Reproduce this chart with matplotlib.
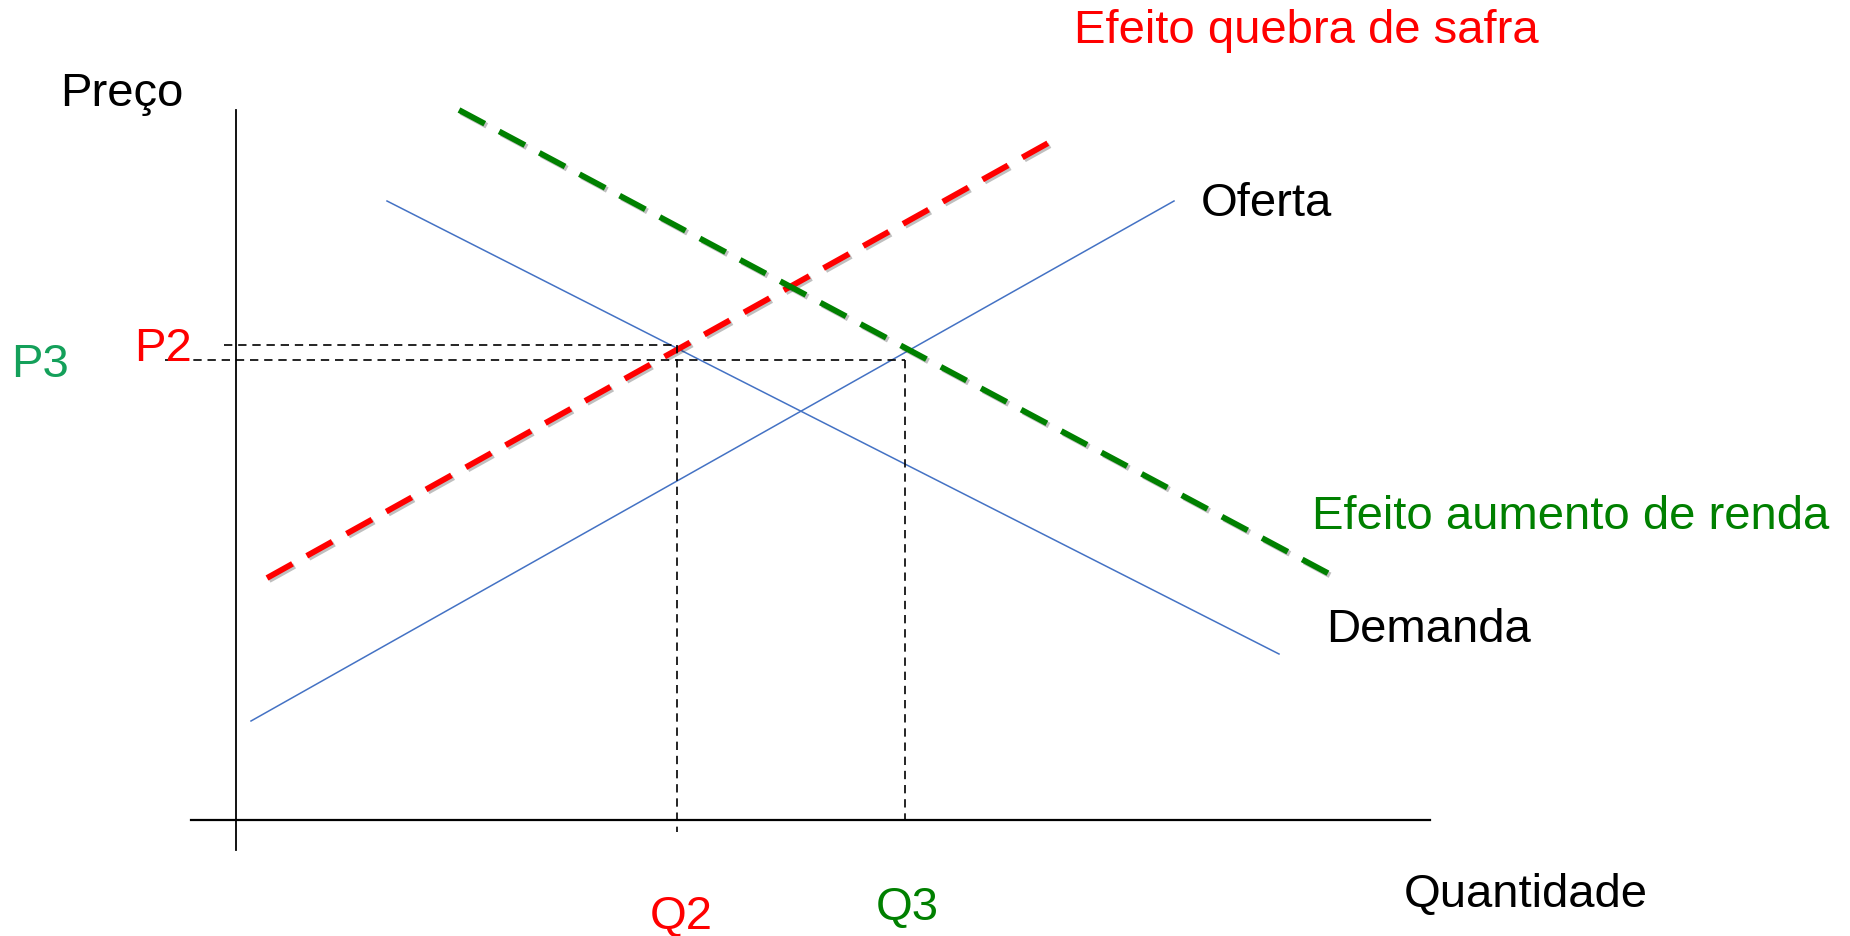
import matplotlib
matplotlib.use('Agg')
import matplotlib.pyplot as plt
import matplotlib.patheffects as pe

plt.rcParams['font.family'] = ['Liberation Sans', 'DejaVu Sans']

# ------------------------- curves (Q, P) ------------------------- #
oferta_q = [1.5, 93.8]
oferta_p = [9.9, 61.9]
demanda_q = [15.1, 104.3]
demanda_p = [61.9, 16.6]
safra_q = [3.1, 81.4]        # oferta deslocada (quebra de safra)
safra_p = [24.2, 67.8]
renda_q = [22.3, 110.1]      # demanda deslocada (aumento de renda)
renda_p = [71.0, 24.2]

# equilibrium values
q2, p2 = 44.1, 47.5
q3, p3 = 66.9, 46.0

fig = plt.figure(figsize=(18.5, 9.36), dpi=100)
ax = fig.add_axes([0, 0, 1, 1])
ax.set_xlim(-23.6, 161.4)
ax.set_ylim(-11.6, 82.0)
ax.axis('off')

# axes
ax.plot([0, 0], [-3.0, 71.0], color='black', lw=1.3)
ax.plot([-4.5, 119.4], [0, 0], color='black', lw=1.6)

blue = '#4472C4'
ax.plot(oferta_q, oferta_p, color=blue, lw=1.1)
ax.plot(demanda_q, demanda_p, color=blue, lw=1.1)

shadow = [pe.SimpleLineShadow(offset=(1.5, -1.5), alpha=0.25), pe.Normal()]
ax.plot(safra_q, safra_p, color='#FF0000', lw=4.2, dashes=(5, 2.8),
        path_effects=shadow)
ax.plot(renda_q, renda_p, color='#008000', lw=4.2, dashes=(5, 2.8),
        path_effects=shadow)

# dashed guide lines
ax.plot([-1.2, q2], [p2, p2], color='black', lw=1.2, dashes=(5, 3.5))
ax.plot([q2, q2], [p2, -1.2], color='black', lw=1.2, dashes=(5, 3.5))
ax.plot([-7.1, q3], [p3, p3], color='black', lw=1.2, dashes=(5, 3.5))
ax.plot([q3, q3], [p3, 0], color='black', lw=1.2, dashes=(5, 3.5))

fs = 34
ax.text(-11.4, 72.6, 'Preço', fontsize=fs, ha='center', va='center')
ax.text(83.8, 78.9, 'Efeito quebra de safra', fontsize=fs, color='#FF0000', va='center')
ax.text(96.5, 61.6, 'Oferta', fontsize=fs, va='center')
ax.text(107.6, 30.3, 'Efeito aumento de renda', fontsize=fs, color='#008000', va='center')
ax.text(109.0, 19.0, 'Demanda', fontsize=fs, va='center')
ax.text(116.8, -7.5, 'Quantidade', fontsize=fs, va='center')
ax.text(44.5, -9.7, 'Q2', fontsize=fs, color='#FF0000', ha='center', va='center')
ax.text(67.1, -8.8, 'Q3', fontsize=fs, color='#008000', ha='center', va='center')
ax.text(-7.3, 47.1, 'P2', fontsize=fs, color='#FF0000', ha='center', va='center')
ax.text(-19.6, 45.5, 'P3', fontsize=fs, color='#14A05A', ha='center', va='center')

fig.savefig('out.png', dpi=100)
